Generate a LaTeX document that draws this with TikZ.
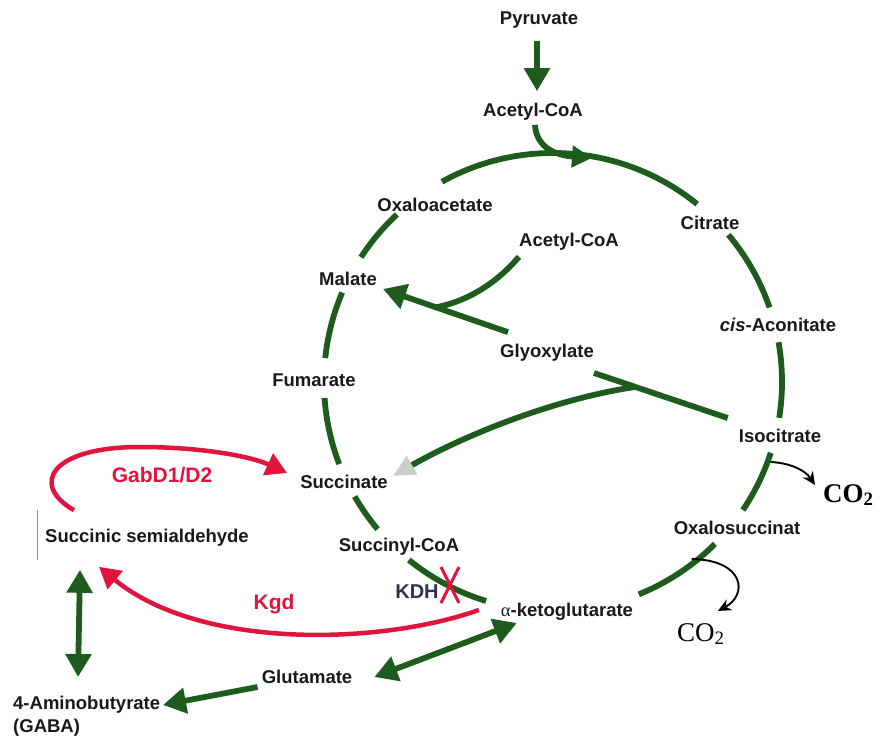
\documentclass[tikz,border=0pt]{standalone}
\usepackage{fontspec}
\setmainfont{Liberation Sans}
\newfontfamily\timesfont{Liberation Serif}
\usetikzlibrary{arrows.meta,calc}
\definecolor{TcaGreen}{HTML}{1E5C1E}
\definecolor{TcaRed}{HTML}{E0143C}
\definecolor{TcaNavy}{HTML}{2E3150}

\begin{document}
\begin{tikzpicture}[x=1pt,y=-1pt,
  met/.style={font=\fontsize{18.5}{23}\selectfont\bfseries,text=black!90,inner sep=0pt},
  enz/.style={font=\fontsize{21}{24}\selectfont\bfseries,text=TcaRed,inner sep=0pt},
  gas/.style={font=\timesfont\fontsize{27}{30}\selectfont,inner sep=0pt,anchor=base west},
  cyc/.style={TcaGreen,line width=5.8pt},
  gro/.style={cyc,-{Triangle[length=23pt,width=25pt]}},
  grboth/.style={cyc,{Triangle[length=23pt,width=25pt]}-{Triangle[length=23pt,width=25pt]}},
  rdo/.style={TcaRed,line width=4.5pt,-{Triangle[length=21pt,width=23pt]}},
  co/.style={line width=1.9pt,-{Stealth[length=13pt,width=12pt]}}]
  \useasboundingbox (0,0) rectangle (884,738);
  \coordinate (hub) at (553,382);

  % metabolites
  \node[met] (pyr) at (539,20) {Pyruvate};
  \node[met] (acoa) at (533,112) {Acetyl-CoA};
  \node[met] (oaa) at (435,205) {Oxaloacetate};
  \node[met] (cit) at (710,223) {Citrate};
  \node[met] (cisac) at (778,325) {\itshape cis\upshape-Aconitate};
  \node[met] (iso) at (780,436) {Isocitrate};
  \node[met] (oxs) at (737,528) {Oxalosuccinat};
  \node[met] (akg) at (567,612) {{\timesfont\mdseries α}-ketoglutarate};
  \node[met] (sucoa) at (399,547) {Succinyl-CoA};
  \node[met] (suc) at (344,482) {Succinate};
  \node[met] (fum) at (314,380) {Fumarate};
  \node[met] (mal) at (348,279) {Malate};
  \node[met] (acoab) at (569,242) {Acetyl-CoA};
  \node[met] (glx) at (547,353) {Glyoxylate};
  \node[met] (ssa) at (147,538) {Succinic semialdehyde};
  \node[met,align=left,anchor=north west] (gaba) at (13,696) {4-Aminobutyrate\\(GABA)};
  \node[met] (glu) at (307,677) {Glutamate};
  \node[gas] (co2a) at (823,502) {\bfseries CO\textsubscript{2}};
  \node[gas] (co2b) at (677,641) {CO\textsubscript{2}};

  % enzymes
  \node[enz] (gabd) at (162,475) {GabD1/D2};
  \node[enz] (kgd) at (274,604) {Kgd};
  \node[font=\fontsize{20}{24}\selectfont\bfseries,text=TcaNavy,inner sep=0pt] (kdh) at (417,592) {KDH};

  % cycle
  \foreach \a/\b in {-119/-51,-40/-19,-10/9,18/34,45/68,107/129,140/150,159/176,186/203,213/227}
    \draw[cyc] ([shift={(\a:229)}]hub) arc[start angle=\a,end angle=\b,radius=229];

  \draw[gro] ($(pyr.south)+(-2,13)$) -- ($(acoa.north)+(4,-12)$);
  \draw[cyc,-{Triangle[length=20pt,width=21pt]}] ($(acoa.south)+(2,4)$)
      .. controls (536,145) and (552,155) .. (592,158);

  % glyoxylate shunt
  \coordinate (glxj) at (435,307.5);
  \coordinate (isoj) at (635,387);
  \draw[gro] ($(glx.north west)+(8,-12)$) -- ($(mal.east)+(6,10)$);
  \draw[cyc] ($(acoab.south west)+(0,6)$) .. controls (495,285) and (465,302) .. (glxj);
  \draw[cyc] ($(iso.north west)+(-11,-11)$) -- ($(glx.east)+(0,20)$);
  \draw[cyc,-{Triangle[length=22pt,width=20pt,color=black!20]}] (isoj)
      .. controls (560,398) and (470,432) .. ($(suc.east)+(5,-6)$);

  % GABA shunt
  \draw[rdo] ($(ssa.north west)+(29,-19)$) .. controls (30,485) and (50,447) .. (140,447)
      .. controls (200,447) and (250,456) .. ($(suc.west)+(-13,-9)$);
  \draw[rdo] ($(akg.west)+(-22,-2)$) .. controls (380,645) and (200,650) .. ($(ssa.south west)+(54,20)$);
  \draw[grboth] ($(ssa.south west)+(35,23)$) -- ($(gaba.north west)+(65,-19)$);
  \draw[grboth] ($(glu.east)+(22,0)$) -- ($(akg.west)+(16,11)$);
  \draw[gro] ($(glu.west)+(-4,10)$) -- ($(gaba.north west)+(150,9)$);
  \draw[black!45,line width=0.8pt] ($(ssa.west)+(-8,-28)$) -- ($(ssa.west)+(-8,22)$);

  % KDH block
  \coordinate (blk) at (450,585);
  \draw[TcaRed,line width=3pt] ($(blk)+(-9,-18)$) -- ($(blk)+(9,18)$)
      ($(blk)+(9,-18)$) -- ($(blk)+(-9,18)$);

  % decarboxylations
  \draw[co] ($(iso.south west)+(32,19)$) .. controls (790,463) and (805,470) .. ($(co2a.west)+(-8,-10)$);
  \draw[co] ($(oxs.south west)+(18,24)$) .. controls (745,560) and (748,595) .. ($(co2b.north)+(17,-12)$);
\end{tikzpicture}
\end{document}
